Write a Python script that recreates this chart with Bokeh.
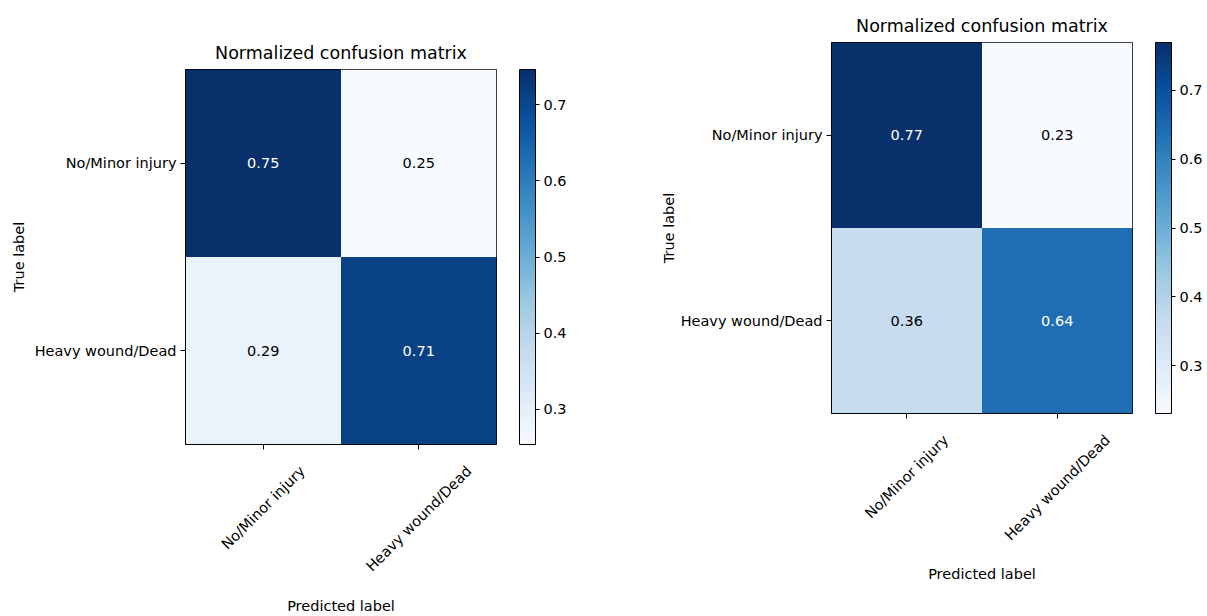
import math
from bokeh.plotting import figure
from bokeh.models import (ColumnDataSource, LinearColorMapper, ColorBar,
                          FixedTicker, Range1d, LinearAxis)
from bokeh.layouts import row
from bokeh.palettes import Blues256
from bokeh.embed import file_html
from bokeh.resources import INLINE
from bokeh.core.properties import value

# ---------------- data ----------------
classes = ["No/Minor injury", "Heavy wound/Dead"]
left_matrix = [[0.746, 0.254],
               [0.286, 0.714]]
right_matrix = [[0.769, 0.231],
                [0.36, 0.64]]
cbar_ticks = [0.3, 0.4, 0.5, 0.6, 0.7]
title_text = "Normalized confusion matrix"
x_title = "Predicted label"
y_title = "True label"

# ---------------- style ----------------
FONT = "DejaVu Sans"
FS_PX = 14.5
FS = f"{FS_PX}px"
TITLE_FS = "17.5px"

pal = list(Blues256)


def _lum(h):
    h = h.lstrip("#")
    r, g, b = int(h[0:2], 16), int(h[2:4], 16), int(h[4:6], 16)
    return 0.299 * r + 0.587 * g + 0.114 * b


if _lum(pal[0]) < _lum(pal[-1]):
    pal = pal[::-1]
# pal[0] is the lightest -> low values light, as in matplotlib "Blues"


def text_len(s, px):
    """Width of a string in DejaVu Sans at px size (falls back to estimate)."""
    try:
        from PIL import ImageFont
        for name in ("DejaVuSans.ttf",
                     "/usr/share/fonts/truetype/dejavu/DejaVuSans.ttf",
                     "/usr/share/fonts/dejavu/DejaVuSans.ttf",
                     "/usr/share/fonts/TTF/DejaVuSans.ttf"):
            try:
                f = ImageFont.truetype(name, 100)
                return f.getlength(s) * px / 100.0
            except Exception:
                continue
    except Exception:
        pass
    return len(s) * 0.6 * px


def style_axis_common(ax):
    ax.major_tick_in = 0
    ax.minor_tick_out = 0
    ax.minor_tick_in = 0
    ax.major_tick_line_color = "#000000"
    ax.axis_line_color = "#000000"
    ax.axis_label_text_font = FONT
    ax.axis_label_text_font_size = FS
    ax.axis_label_text_font_style = "normal"
    ax.axis_label_text_color = "#000000"
    ax.major_label_text_font = FONT
    ax.major_label_text_color = "#000000"


def make_panel(cm, frame_w, frame_h, b_left, b_top, b_right, b_bottom,
               cb_gap, ylab_standoff, xlab_standoff):
    n = len(classes)
    xs, ys, vs, txt, tcol = [], [], [], [], []
    flat = [v for r in cm for v in r]
    lo, hi = min(flat), max(flat)
    thresh = hi / 2.0
    for i in range(n):
        for j in range(n):
            v = cm[i][j]
            xs.append(j + 0.5)
            ys.append(i + 0.5)
            vs.append(v)
            txt.append(f"{v:.2f}")
            tcol.append("#ffffff" if v > thresh else "#000000")
    src = ColumnDataSource(dict(x=xs, y=ys, v=vs, t=txt, c=tcol))
    mapper = LinearColorMapper(palette=pal, low=lo, high=hi)

    p = figure(frame_width=frame_w, frame_height=frame_h,
               x_range=Range1d(0, n), y_range=Range1d(n, 0),
               output_backend="svg", toolbar_location=None,
               min_border_left=b_left, min_border_top=b_top,
               min_border_right=b_right, min_border_bottom=b_bottom,
               title=title_text)
    try:
        p.frame_align = False
    except Exception:
        pass
    p.title.text_font = FONT
    p.title.text_font_size = TITLE_FS
    p.title.text_font_style = "normal"
    p.title.text_color = "#000000"
    p.title.align = "center"
    p.title.standoff = 14

    p.rect(x="x", y="y", width=1, height=1, source=src,
           fill_color={"field": "v", "transform": mapper},
           line_color=None)
    p.text(x="x", y="y", text="t", source=src, text_color="c",
           text_align="center", text_baseline="middle",
           text_font=value(FONT), text_font_size=FS)

    p.grid.visible = False
    p.outline_line_color = "#000000"
    p.outline_line_width = 1
    p.background_fill_color = "#ffffff"
    p.border_fill_color = "#ffffff"

    tick_pos = [k + 0.5 for k in range(n)]

    # y axis
    ya = p.yaxis[0]
    style_axis_common(ya)
    ya.ticker = FixedTicker(ticks=tick_pos)
    ya.major_label_overrides = {tick_pos[k]: classes[k] for k in range(n)}
    ya.major_label_text_font_size = FS
    ya.major_label_standoff = 4
    ya.major_tick_out = 5
    ya.axis_label = y_title
    ya.axis_label_standoff = ylab_standoff

    # x axis: tick marks only
    xa = p.xaxis[0]
    style_axis_common(xa)
    xa.ticker = FixedTicker(ticks=tick_pos)
    xa.major_label_overrides = {tick_pos[k]: "" for k in range(n)}
    xa.major_label_text_font_size = "0px"
    xa.major_label_standoff = 0
    xa.major_tick_out = 5

    # second x axis carrying the 45-degree labels, centred under the ticks
    px_per_unit = frame_w / n
    lab_pos = []
    for k in range(n):
        L = text_len(classes[k], FS_PX)
        dx = (L * math.cos(math.pi / 4)) / 2.0
        lab_pos.append(tick_pos[k] + dx / px_per_unit)
    xl = LinearAxis(ticker=FixedTicker(ticks=lab_pos))
    style_axis_common(xl)
    xl.major_label_overrides = {lab_pos[k]: classes[k] for k in range(n)}
    xl.major_label_orientation = math.pi / 4
    xl.major_label_text_font_size = FS
    xl.major_label_standoff = 19
    xl.major_tick_out = 0
    xl.major_tick_line_color = None
    xl.axis_line_color = None
    xl.axis_label = x_title
    xl.axis_label_standoff = xlab_standoff
    p.add_layout(xl, "below")

    cb = ColorBar(color_mapper=mapper, ticker=FixedTicker(ticks=cbar_ticks),
                  location=(frame_w + cb_gap, 0), width=16, height=frame_h,
                  padding=0, margin=0, bar_line_color="#000000",
                  bar_line_width=1,
                  major_tick_out=4, major_tick_in=0,
                  major_tick_line_color="#000000", label_standoff=4,
                  major_label_text_font=FONT, major_label_text_font_size=FS,
                  major_label_text_color="#000000",
                  background_fill_alpha=0, border_line_color=None)
    p.add_layout(cb)
    return p


# left figure: 593 x 616 ; right figure: 614 x 616
p1 = make_panel(left_matrix, 311, 375, 185, 69, 97, 172, 23, 5, 15)
p2 = make_panel(right_matrix, 301, 371, 238, 42, 75, 203, 23, 1, 14)

layout = row(p1, p2)
open("out.html", "w").write(file_html(layout, INLINE))
